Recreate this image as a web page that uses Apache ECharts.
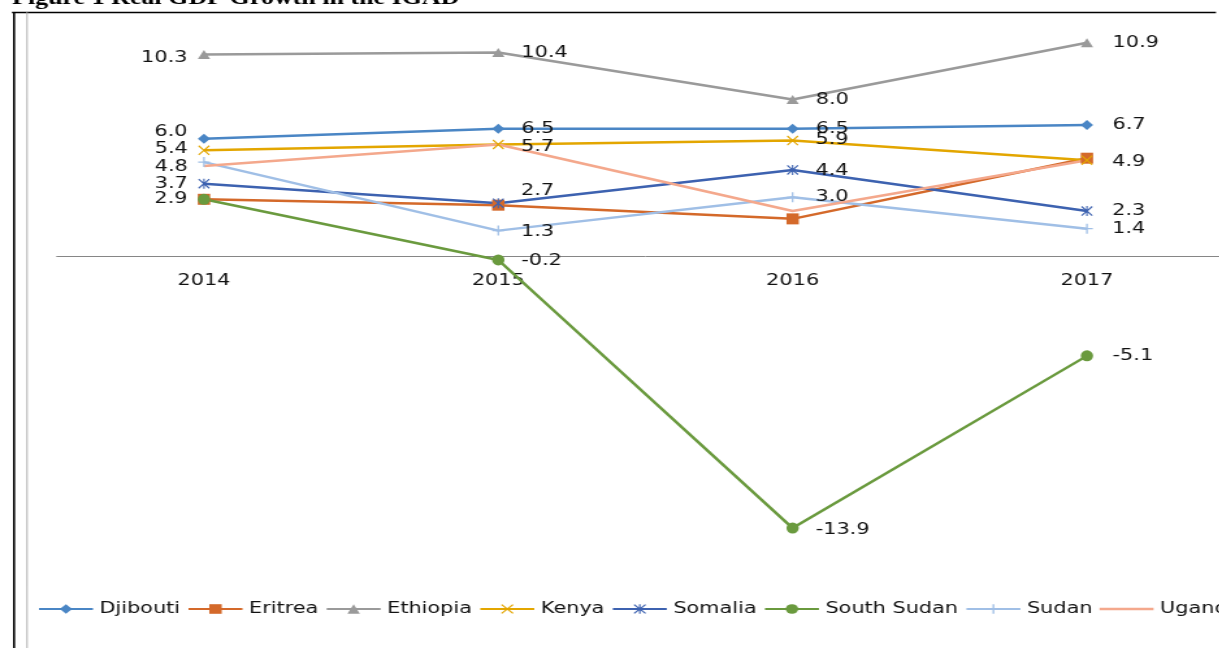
<!DOCTYPE html>
<html>
<head>
<meta charset="utf-8">
<script src="https://cdn.jsdelivr.net/npm/echarts@6/dist/echarts.min.js"></script>
<style>
  html, body { margin: 0; padding: 0; overflow: hidden; background: #fff; width: 1219px; height: 648px; }
  /* the figure is laid out narrow and widened horizontally, like the source document */
  #chart { position: absolute; left: 0; top: 0; width: 980px; height: 648px;
           transform: scaleX(1.3); transform-origin: 0 0; }
</style>
</head>
<body>
<div id="chart"></div>
<script>
// Real GDP growth (%), IGAD member states
const years = ['2014', '2015', '2016', '2017'];
const countries = ['Djibouti', 'Eritrea', 'Ethiopia', 'Kenya', 'Somalia', 'South Sudan', 'Sudan', 'Uganda'];
const djibouti   = [6.0, 6.5, 6.5, 6.7];
const eritrea    = [2.9, 2.6, 1.9, 5.0];
const ethiopia   = [10.3, 10.4, 8.0, 10.9];
const kenya      = [5.4, 5.7, 5.9, 4.9];
const somalia    = [3.7, 2.7, 4.4, 2.3];
const southSudan = [2.9, -0.2, -13.9, -5.1];
const sudan      = [4.8, 1.3, 3.0, 1.4];
const uganda     = [4.6, 5.7, 2.3, 4.9];
const values = [djibouti, eritrea, ethiopia, kenya, somalia, southSudan, sudan, uganda];
const title = 'Figure 1 Real GDP Growth in the IGAD';

// series appearance
const colors = ['#4a86c5', '#d4692a', '#9a9a9a', '#e3a600', '#3d62b0', '#6a9a3e', '#a0bfe6', '#f4a88c'];
const P_X = 'path://M0,0.9L0.9,0L10,9.1L9.1,10Z M9.1,0L10,0.9L0.9,10L0,9.1Z';
const P_STAR = P_X + ' M4.4,0H5.6V10H4.4Z';
const P_PLUS = 'path://M4.3,0H5.7V10H4.3Z M0,4.3H10V5.7H0Z';
// plain line swatch for a series drawn without markers (tiny corner specks keep the box 12 high)
const P_LINE_ONLY = 'path://M0,0L0.01,0L0,0.01Z M0,4.75H41.5V7.25H0Z M41.5,12L41.49,12L41.5,11.99Z';
const symbols = ['diamond', 'rect', 'triangle', P_X, P_STAR, 'circle', P_PLUS, 'none'];
const symbolSizes = [[9.5, 10], [9.5, 11], [9.5, 9], [9, 10], [9, 10], [9.5, 11], [9, 10], 0];

// which series carry value labels, and small vertical nudges for them
const hasLabels = [true, false, true, true, true, true, true, false];
const labelNudge = [
  [-7, 0, 0, 0], null, [3, 0, 0, 0], [-2, 2, -1, 2],
  [0, -12, 1, 0], [0, 1, 2, 0], [5, 1, 0, 0], null
];
const labelSide = ['left', 'right', 'right', 'right'];
const labelGap = [8, 13, 13, 15];

const FONT = '"DejaVu Sans", Verdana, sans-serif';

// value scale of the plot area
const Y_MIN = -16, Y_MAX = 12;
const GRID_TOP = 21.2, GRID_H = 548;
const zeroFromBottom = GRID_H * (0 - Y_MIN) / (Y_MAX - Y_MIN);

const series = countries.map((name, s) => ({
  name: name,
  type: 'line',
  symbol: symbols[s],
  symbolSize: symbolSizes[s],
  showSymbol: symbols[s] !== 'none',
  color: colors[s],
  itemStyle: { color: colors[s] },
  lineStyle: { color: colors[s], width: 2.5 },
  emphasis: { disabled: true },
  animation: false,
  data: values[s].map((v, i) => {
    const item = { value: v };
    if (hasLabels[s]) {
      item.label = {
        show: true,
        position: labelSide[i],
        distance: labelGap[i],
        offset: [0, labelNudge[s][i]],
        formatter: p => Number(p.value).toFixed(1),
        color: '#111',
        fontSize: 16,
        fontFamily: FONT
      };
    }
    return item;
  })
}));

const legendData = countries.map((name, s) =>
  symbols[s] === 'none' ? { name: name, icon: P_LINE_ONLY } : { name: name });

const chart = echarts.init(document.getElementById('chart'), null, { renderer: 'canvas' });
chart.setOption({
  backgroundColor: '#fff',
  animation: false,
  grid: { left: 43.7, width: 905.6, top: GRID_TOP, height: GRID_H, outerBoundsMode: 'none', containLabel: false },
  xAxis: {
    type: 'category',
    data: years,
    boundaryGap: true,
    offset: -zeroFromBottom,
    axisLine: { onZero: false, lineStyle: { color: '#868686', width: 1 } },
    axisTick: { show: false },
    axisLabel: { color: '#111', fontSize: 16, fontFamily: FONT, margin: 17 },
    splitLine: { show: false }
  },
  yAxis: {
    type: 'value',
    min: Y_MIN,
    max: Y_MAX,
    show: false,
    splitLine: { show: false }
  },
  legend: {
    left: 24,
    top: 596,
    width: 960,
    itemWidth: 41.5,
    itemHeight: 12,
    itemGap: 5.5,
    textStyle: { color: '#111', fontSize: 16, fontFamily: FONT },
    data: legendData
  },
  graphic: [
    {
      type: 'text', left: 9.2, top: -11, silent: true,
      style: { text: title, font: 'bold 20px "Liberation Serif", "Times New Roman", serif', fill: '#000' }
    },
    { type: 'line', silent: true, shape: { x1: 9.2, y1: 12.5, x2: 935.4, y2: 12.5 },
      style: { stroke: '#000', lineWidth: 1.5 } },
    { type: 'line', silent: true, shape: { x1: 10.8, y1: 12, x2: 10.8, y2: 648 },
      style: { stroke: '#000', lineWidth: 1.6 } },
    { type: 'line', silent: true, shape: { x1: 20.8, y1: 12, x2: 20.8, y2: 648 },
      style: { stroke: '#a6a6a6', lineWidth: 0.9 } }
  ],
  series: series
});
</script>
</body>
</html>
